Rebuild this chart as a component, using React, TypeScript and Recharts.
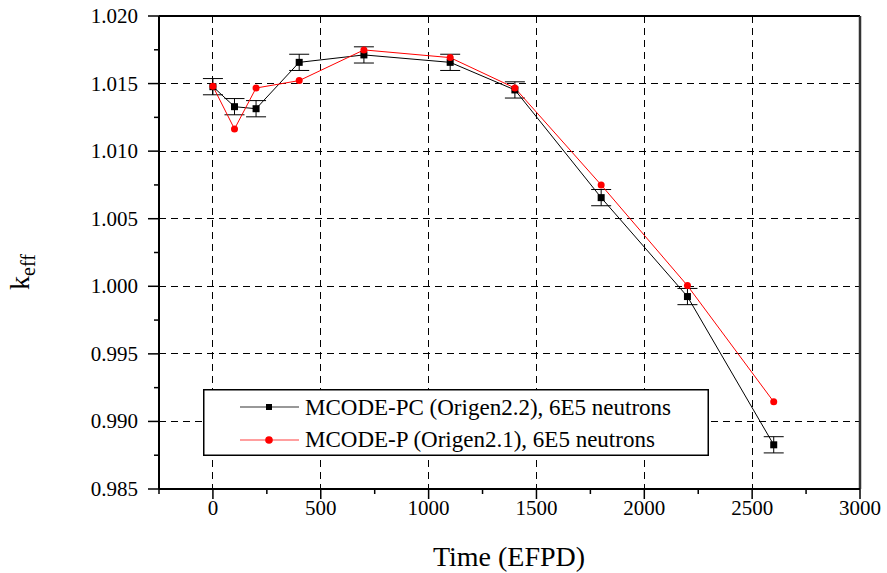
import React from 'react';
import {
  LineChart, Line, XAxis, YAxis, CartesianGrid, ErrorBar, ReferenceLine, Legend,
} from 'recharts';

const times = [0, 100, 200, 400, 700, 1100, 1400, 1800, 2200, 2600];
const pcValues = [1.01477, 1.01329, 1.01314, 1.01657, 1.01712, 1.01657, 1.01453, 1.00656, 0.99924, 0.98827];
const pcErrors = [0.0006, 0.0006, 0.0006, 0.0006, 0.0006, 0.0006, 0.0006, 0.0006, 0.0006, 0.0006];
const pValues = [1.0148, 1.01164, 1.01467, 1.01522, 1.01749, 1.01692, 1.01467, 1.0075, 1.00005, 0.99145];

const xTicks = [-250, 0, 250, 500, 750, 1000, 1250, 1500, 1750, 2000, 2250, 2500, 2750, 3000];
const xMajor = [0, 500, 1000, 1500, 2000, 2500, 3000];
const xGrid = [0, 500, 1000, 1500, 2000, 2500];
const yTicks = [0.985, 0.9875, 0.99, 0.9925, 0.995, 0.9975, 1.0, 1.0025, 1.005, 1.0075, 1.01, 1.0125, 1.015, 1.0175, 1.02];
const yMajor = [0.985, 0.99, 0.995, 1.0, 1.005, 1.01, 1.015, 1.02];
const yGrid = [0.99, 0.995, 1.0, 1.005, 1.01, 1.015];

const seriesPC = 'MCODE-PC (Origen2.2), 6E5 neutrons';
const seriesP = 'MCODE-P (Origen2.1), 6E5 neutrons';

const pcData = times.map((t, i) => ({ t, v: pcValues[i], e: pcErrors[i] }));
const pData = times.map((t, i) => ({ t, v: pValues[i] }));

const FONT = '"Liberation Serif", "Times New Roman", serif';
const fontStyle = { fontFamily: FONT };

const isMajor = (v: number, list: number[]) => list.some((m) => Math.abs(m - v) < 1e-9);

const XTick = (props: any) => {
  const { x, y, payload } = props;
  const major = isMajor(payload.value, xMajor);
  return (
    <g>
      <line x1={x} x2={x} y1={y} y2={y + (major ? 10 : 5)} stroke="#000" strokeWidth={1.5} />
      {major && (
        <text x={x} y={y + 26} textAnchor="middle" fontSize={21} style={fontStyle} fill="#000">
          {payload.value}
        </text>
      )}
    </g>
  );
};

const YTick = (props: any) => {
  const { x, y, payload } = props;
  const major = isMajor(payload.value, yMajor);
  return (
    <g>
      <line x1={x - (major ? 11 : 5)} x2={x} y1={y} y2={y} stroke="#000" strokeWidth={1.5} />
      {major && (
        <text x={x - 21} y={y + 7} textAnchor="end" fontSize={21} style={fontStyle} fill="#000">
          {payload.value.toFixed(3)}
        </text>
      )}
    </g>
  );
};

const SquareDot = (props: any) => {
  const { cx, cy } = props;
  if (cx == null || cy == null) return null;
  return <rect x={cx - 3.5} y={cy - 3.5} width={7} height={7} fill="#000" />;
};

const YLabel = () => (
  <text transform="translate(29,272) rotate(-90)" textAnchor="middle" style={fontStyle} fill="#000">
    <tspan fontSize={28}>k</tspan>
    <tspan fontSize={20} dy={6}>eff</tspan>
  </text>
);

const LegendBox = () => (
  <svg width={506} height={67} style={{ display: 'block' }}>
    <rect x={0.75} y={0.75} width={504.5} height={65.5} fill="#fff" stroke="#000" strokeWidth={1.5} />
    <line x1={37} x2={96} y1={18} y2={18} stroke="#333" strokeWidth={1.2} />
    <rect x={63} y={15} width={6} height={6} fill="#000" />
    <text x={102} y={26} fontSize={23} style={fontStyle} fill="#000">{seriesPC}</text>
    <line x1={37} x2={96} y1={51} y2={51} stroke="#ff4040" strokeWidth={1.2} />
    <circle cx={66} cy={51} r={3.8} fill="#ff0000" />
    <text x={102} y={58} fontSize={23} style={fontStyle} fill="#000">{seriesP}</text>
  </svg>
);

export default function App() {
  return (
    <div style={{ position: 'absolute', left: 0, top: 0, width: 887, height: 573, background: '#fff', fontFamily: FONT }}>
      <LineChart width={887} height={573} margin={{ top: 16, right: 27, left: 0, bottom: 0 }} style={fontStyle}>
        <CartesianGrid
          horizontalValues={yGrid}
          verticalValues={xGrid}
          stroke="#000"
          strokeDasharray="7 5"
          shapeRendering="crispEdges"
        />
        <XAxis
          type="number"
          dataKey="t"
          domain={[-250, 3000]}
          ticks={xTicks}
          interval={0}
          tick={<XTick />}
          tickLine={false}
          tickSize={0}
          tickMargin={0}
          axisLine={{ stroke: '#000', strokeWidth: 2 }}
          height={84}
          allowDataOverflow
          label={{
            value: 'Time (EFPD)',
            position: 'insideBottom',
            offset: 0,
            content: () => (
              <text x={509} y={566} textAnchor="middle" fontSize={28} style={fontStyle} fill="#000">
                Time (EFPD)
              </text>
            ),
          }}
        />
        <YAxis
          type="number"
          domain={[0.985, 1.02]}
          ticks={yTicks}
          interval={0}
          tick={<YTick />}
          tickLine={false}
          tickSize={0}
          tickMargin={0}
          axisLine={{ stroke: '#000', strokeWidth: 2 }}
          width={159}
          allowDataOverflow
          label={{ value: 'keff', content: () => <YLabel /> }}
        />
        <ReferenceLine y={1.02} stroke="#000" strokeWidth={2} />
        <ReferenceLine x={3000} stroke="#333" strokeWidth={2.5} />
        <Line
          data={pcData}
          dataKey="v"
          name={seriesPC}
          stroke="#000"
          strokeWidth={1}
          dot={<SquareDot />}
          isAnimationActive={false}
        >
          <ErrorBar dataKey="e" width={10} stroke="#000" strokeWidth={1} direction="y" />
        </Line>
        <Line
          data={pData}
          dataKey="v"
          name={seriesP}
          stroke="#ff0000"
          strokeWidth={1}
          dot={{ r: 3.5, fill: '#ff0000', stroke: '#ff0000', strokeWidth: 0 }}
          isAnimationActive={false}
        />
        <Legend
          layout="horizontal"
          verticalAlign="middle"
          align="center"
          content={() => <LegendBox />}
          wrapperStyle={{ left: 203, top: 389, width: 506, height: 67 }}
        />
      </LineChart>
    </div>
  );
}
